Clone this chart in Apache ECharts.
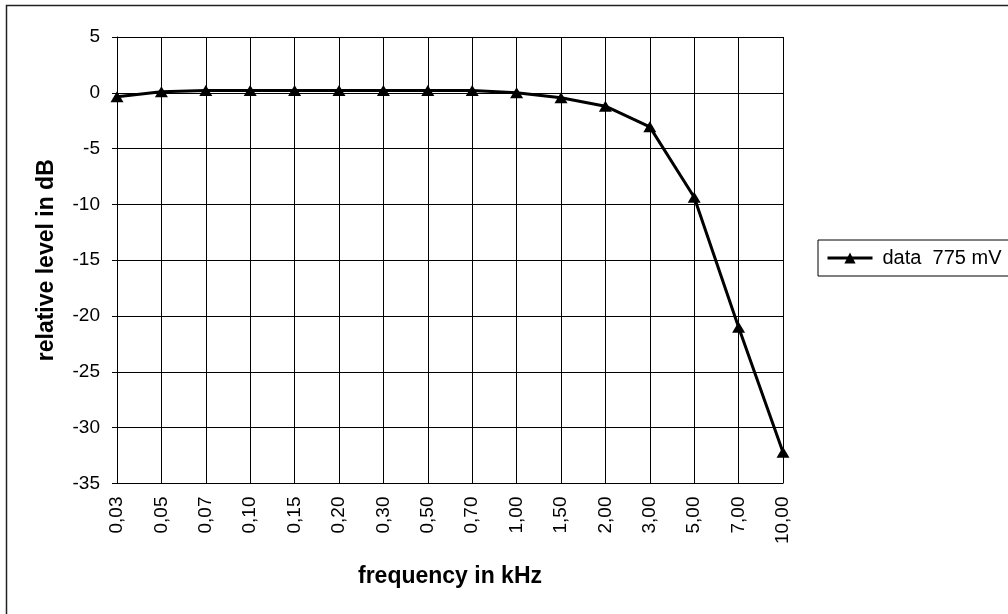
<!DOCTYPE html>
<html><head><meta charset="utf-8">
<script src="https://cdn.jsdelivr.net/npm/echarts@6/dist/echarts.min.js"></script>
<style>html,body{margin:0;padding:0;background:#fff}#c{width:1008px;height:614px}</style>
</head><body><div id="c"></div>
<script>
const categories = ["0,03","0,05","0,07","0,10","0,15","0,20","0,30","0,50","0,70","1,00","1,50","2,00","3,00","5,00","7,00","10,00"];
const levels = [-0.35, 0.1, 0.2, 0.2, 0.2, 0.2, 0.2, 0.2, 0.2, 0.0, -0.45, -1.2, -3.05, -9.35, -21.0, -32.2];
const seriesName = "data  775 mV";
const yMin = -35, yMax = 5, yStep = 5;
const xTitle = "frequency in kHz";
const yTitle = "relative level in dB";

const font = "Liberation Sans, Arial, sans-serif";
const chart = echarts.init(document.getElementById('c'), null, {renderer:'canvas'});
chart.setOption({
  animation:false,
  backgroundColor:'#fff',
  graphic:[{type:'rect', shape:{x:6.5,y:5.5,width:1100,height:700}, style:{fill:'none',stroke:'#222',lineWidth:1.5}, silent:true}],
  grid:{left:117,right:225,top:37,bottom:130.5,containLabel:false},
  legend:{
    left:818, top:240, orient:'vertical',
    data:[seriesName],
    itemWidth:45, itemHeight:14, itemGap:0,
    padding:[8,40,8,8],
    borderColor:'#000', borderWidth:1, borderRadius:0,
    lineStyle:{width:3,color:'#000'},
    textStyle:{fontFamily:font,fontSize:20,color:'#000',padding:[0,0,0,5]}
  },
  xAxis:{
    type:'category', data:categories, boundaryGap:false,
    name:xTitle, nameLocation:'middle', nameGap:82,
    nameTextStyle:{fontFamily:font,fontSize:23,fontWeight:'bold',color:'#000'},
    axisLine:{lineStyle:{color:'#000',width:1}},
    axisTick:{show:true,interval:0,length:5,lineStyle:{color:'#000'}},
    axisLabel:{interval:0,rotate:90,margin:13,fontFamily:font,fontSize:19,color:'#000'},
    splitLine:{show:true,interval:0,lineStyle:{color:'#000',width:1}}
  },
  yAxis:{
    type:'value', min:yMin, max:yMax, interval:yStep,
    name:yTitle, nameLocation:'middle', nameGap:59, nameRotate:90,
    nameTextStyle:{fontFamily:font,fontSize:23,fontWeight:'bold',color:'#000'},
    axisLine:{show:true,lineStyle:{color:'#000',width:1}},
    axisTick:{show:true,length:5,lineStyle:{color:'#000'}},
    axisLabel:{margin:17,fontFamily:font,fontSize:19,color:'#000'},
    splitLine:{show:true,lineStyle:{color:'#000',width:1}}
  },
  series:[{
    name:seriesName, type:'line', data:levels,
    symbol:'triangle', symbolSize:[13,11],
    lineStyle:{color:'#000',width:3},
    itemStyle:{color:'#000'},
    z:5
  }]
});
</script></body></html>
